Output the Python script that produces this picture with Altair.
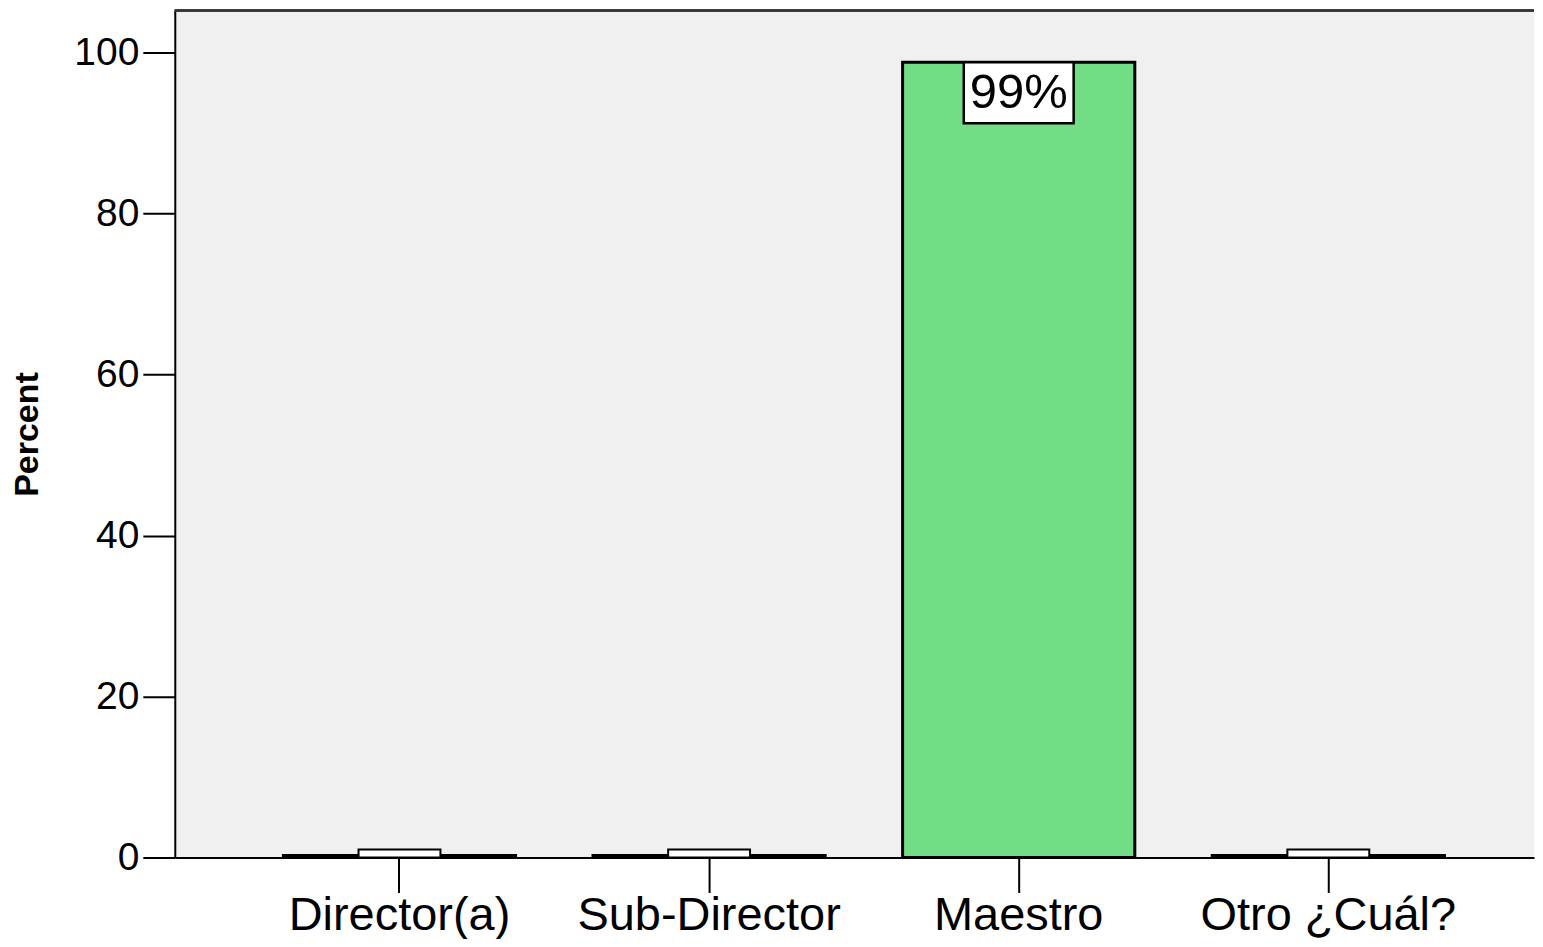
import altair as alt
import pandas as pd

categories = ["Director(a)", "Sub-Director", "Maestro", "Otro ¿Cuál?"]
percents = [0.25, 0.25, 98.8, 0.25]
labels = ["0%", "0%", "99%", "0%"]

df = pd.DataFrame({"cat": categories, "pct": percents, "label": labels})
df["big"] = df["pct"] >= 5
df["box_top"] = df.apply(lambda r: r["pct"] if r["big"] else 1.0, axis=1)
df["box_bot"] = df.apply(lambda r: r["pct"] - 7.6 if r["big"] else 0.0, axis=1)
df["mid"] = (df["box_top"] + df["box_bot"]) / 2

FONT = "Liberation Sans"

x_enc = alt.X(
    "cat:N",
    sort=categories,
    scale=alt.Scale(paddingInner=0.25, paddingOuter=0.32, align=0.548),
    axis=alt.Axis(
        title=None,
        labelAngle=0,
        labelFont=FONT,
        labelFontSize=47,
        labelColor="black",
        labelPadding=0,
        labelLimit=0,
        tickSize=35,
        tickColor="black",
        tickWidth=2,
        domainColor="black",
        domainWidth=2,
    ),
)

y_scale = alt.Scale(domain=[0, 105.2], nice=False, zero=True)
y_axis = alt.Axis(
    title="Percent",
    titleFont=FONT,
    titleFontSize=34,
    titleFontWeight="bold",
    titleColor="black",
    titlePadding=29,
    values=[0, 20, 40, 60, 80, 100],
    labelFont=FONT,
    labelFontSize=39,
    labelColor="black",
    labelPadding=4,
    tickSize=32,
    tickColor="black",
    tickWidth=2,
    domainColor="black",
    domainWidth=2,
    grid=False,
)

base = alt.Chart(df)

bars = base.mark_bar(color="#71DD85", stroke="black", strokeWidth=3).encode(
    x=x_enc,
    y=alt.Y("pct:Q", scale=y_scale, axis=y_axis),
)

small_boxes = base.transform_filter("!datum.big").mark_bar(
    size=82, color="white", stroke="black", strokeWidth=2
).encode(x=alt.X("cat:N", sort=categories), y="box_bot:Q", y2="box_top:Q")

big_boxes = base.transform_filter("datum.big").mark_bar(
    size=110, color="white", stroke="black", strokeWidth=2.5
).encode(x=alt.X("cat:N", sort=categories), y="box_bot:Q", y2="box_top:Q")

texts = base.transform_filter("datum.big").mark_text(
    font=FONT, fontSize=49, color="black", baseline="middle", align="center"
).encode(x=alt.X("cat:N", sort=categories), y="mid:Q", text="label:N")

top_border = alt.Chart(df).mark_rule(color="#333333", strokeWidth=2).encode(
    y=alt.value(0)
)

chart = (
    alt.layer(bars, small_boxes, big_boxes, texts, top_border)
    .properties(
        width=1361,
        height=848,
        padding={"left": 2, "top": 1, "right": 0, "bottom": 0},
        background="white",
    )
    .configure_view(fill="#F0F0F0", strokeWidth=0)
)

chart.save("out.html", embed_options={"renderer": "svg", "actions": False})
